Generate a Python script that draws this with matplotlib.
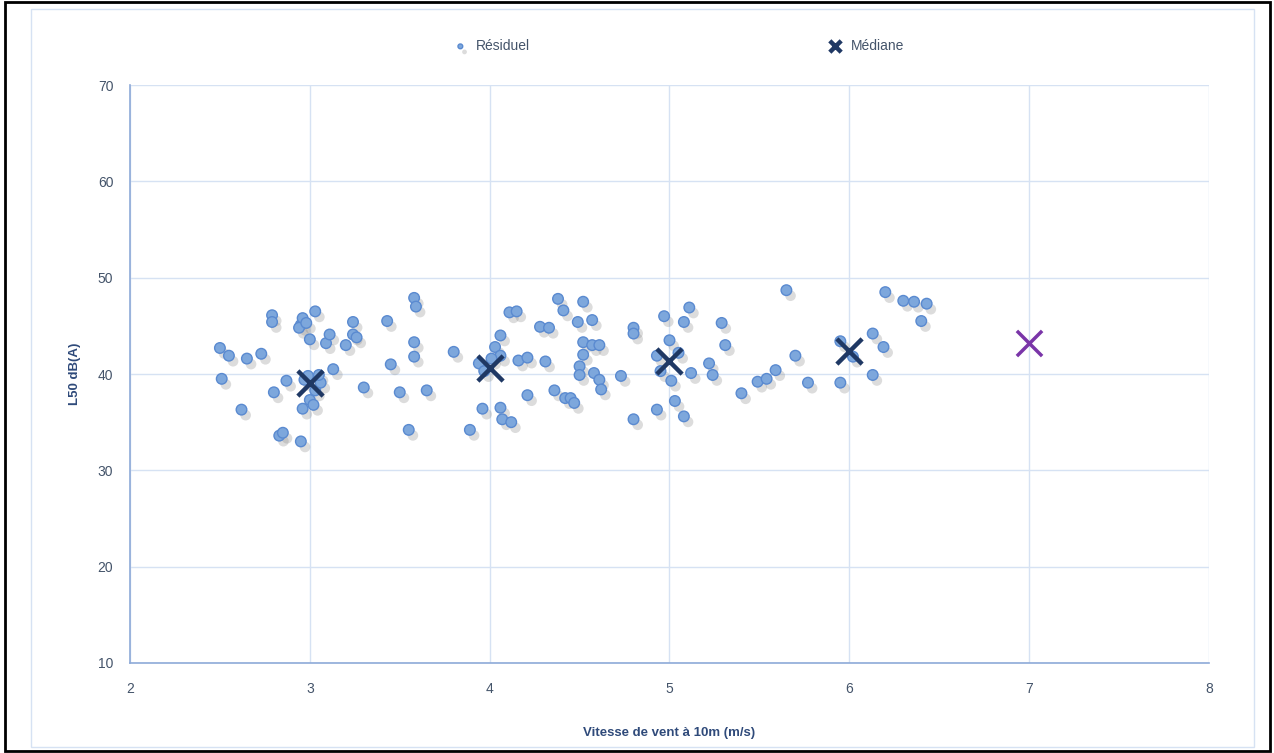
import matplotlib
matplotlib.use("Agg")
import matplotlib.pyplot as plt
import matplotlib.patheffects as pe
from matplotlib.patches import Rectangle

# Résiduel points (wind speed m/s, L50 dB(A))
vitesse = [2.50, 2.51, 2.55, 2.62, 2.65, 2.73, 2.79, 2.79, 2.80, 2.83, 2.85, 2.87,
           2.95, 2.95, 2.96, 2.96, 2.97, 2.94, 2.98, 3.00, 3.00, 3.02, 3.03, 3.03,
           3.06, 3.09, 3.11, 3.13, 3.20, 3.24, 3.24, 3.26, 3.30, 3.43, 3.45, 3.50,
           3.55, 3.58, 3.59, 3.58, 3.58, 3.65, 3.80, 3.89, 3.94, 3.96, 3.97, 4.03,
           4.06, 4.06, 4.06, 4.07, 4.12, 4.11, 4.15, 4.16, 4.21, 4.21, 4.28, 4.33,
           4.31, 4.38, 4.41, 4.36, 4.42, 4.45, 4.47, 4.49, 4.52, 4.52, 4.50, 4.50,
           4.52, 4.57, 4.61, 4.57, 4.58, 4.61, 4.62, 4.73, 4.80, 4.80, 4.80, 4.93,
           4.93, 4.95, 4.97, 5.00, 5.01, 5.03, 5.08, 5.08, 5.12, 5.11, 5.22, 5.24,
           5.29, 5.31, 5.40, 5.49, 5.54, 5.59, 5.65, 5.70, 5.77, 5.95, 5.95, 6.02,
           6.13, 6.13, 6.19, 6.20, 6.30, 6.36, 6.43, 6.40, 2.99, 3.05, 4.01, 5.05]
l50 = [42.7, 39.5, 41.9, 36.3, 41.6, 42.1, 46.1, 45.4, 38.1, 33.6, 33.9, 39.3,
       33.0, 45.1, 45.8, 36.4, 39.4, 44.8, 45.3, 37.3, 43.6, 36.8, 46.5, 38.3,
       39.1, 43.2, 44.1, 40.5, 43.0, 45.4, 44.1, 43.8, 38.6, 45.5, 41.0, 38.1,
       34.2, 47.9, 47.0, 43.3, 41.8, 38.3, 42.3, 34.2, 41.1, 36.4, 40.3, 42.8,
       44.0, 41.9, 36.5, 35.3, 35.0, 46.4, 46.5, 41.4, 41.7, 37.8, 44.9, 44.8,
       41.3, 47.8, 46.6, 38.3, 37.5, 37.5, 37.0, 45.4, 47.5, 42.0, 40.8, 39.9,
       43.3, 43.0, 43.0, 45.6, 40.1, 39.4, 38.4, 39.8, 44.8, 44.2, 35.3, 36.3,
       41.9, 40.3, 46.0, 43.5, 39.3, 37.2, 35.6, 45.4, 40.1, 46.9, 41.1, 39.9,
       45.3, 43.0, 38.0, 39.2, 39.5, 40.4, 48.7, 41.9, 39.1, 39.1, 43.4, 41.8,
       44.2, 39.9, 42.8, 48.5, 47.6, 47.5, 47.3, 45.5, 39.8, 39.9, 41.6, 42.2]

# Médiane points
med_vitesse = [3, 4, 5, 6]
med_l50 = [39.1, 40.6, 41.4, 42.4]
extra_vitesse = [7]
extra_l50 = [43.2]

plt.rcParams['font.family'] = ['Liberation Sans Narrow', 'Liberation Sans', 'DejaVu Sans']

fig = plt.figure(figsize=(12.74, 7.53), dpi=100)
ax = fig.add_axes([130 / 1274, 1 - 663 / 753, (1209 - 130) / 1274, (663 - 85) / 753])

shadow = [pe.SimplePatchShadow(offset=(3, -4), shadow_rgbFace="#8c8c8c", alpha=0.3), pe.Normal()]

ax.scatter(vitesse, l50, s=58, color="#7DA7DC", edgecolors="#5A8AD0", linewidths=1.0,
           zorder=3, label="Résiduel", path_effects=shadow)
ax.scatter(med_vitesse, med_l50, s=330, marker="x", color="#1F3864", linewidths=3.2,
           zorder=4, label="Médiane")
ax.scatter(extra_vitesse, extra_l50, s=330, marker="x", color="#7A35A8", linewidths=2.5,
           zorder=4)

ax.set_xlim(2, 8)
ax.set_ylim(10, 70)
ax.set_xticks(range(2, 9))
ax.set_yticks(range(10, 71, 10))
ax.grid(True, color="#D6E2F3", linewidth=1.0)
ax.set_axisbelow(True)
for s in ["top", "right"]:
    ax.spines[s].set_visible(False)
for s in ["left", "bottom"]:
    ax.spines[s].set_color("#8EAAD8")
    ax.spines[s].set_linewidth(1.2)
ax.tick_params(length=0, colors="#44546A", labelsize=10, pad=14)
ax.tick_params(axis="y", pad=12)

ax.set_xlabel("Vitesse de vent à 10m (m/s)", fontsize=9.5, fontweight="bold",
              color="#2F4A7A", labelpad=22)
ax.set_ylabel("L50 dB(A)", fontsize=9.5, fontweight="bold", color="#2F4A7A", labelpad=12)

leg = fig.legend(loc="center", bbox_to_anchor=(0.53, 1 - 46 / 753), ncol=2, frameon=False,
                 fontsize=10, columnspacing=21, handletextpad=0.1, markerscale=0.45,
                 labelcolor="#44546A")

# chart border and outer frame
fig.patches.append(Rectangle((31 / 1274, 6 / 753), (1254 - 31) / 1274, (744 - 6) / 753,
                             transform=fig.transFigure, fill=False, edgecolor="#D6E2F3",
                             linewidth=1.0))
fig.patches.append(Rectangle((0.004, 0.003), 0.993, 0.994, transform=fig.transFigure,
                             fill=False, edgecolor="black", linewidth=2.0))

fig.savefig("out.png", dpi=100)
